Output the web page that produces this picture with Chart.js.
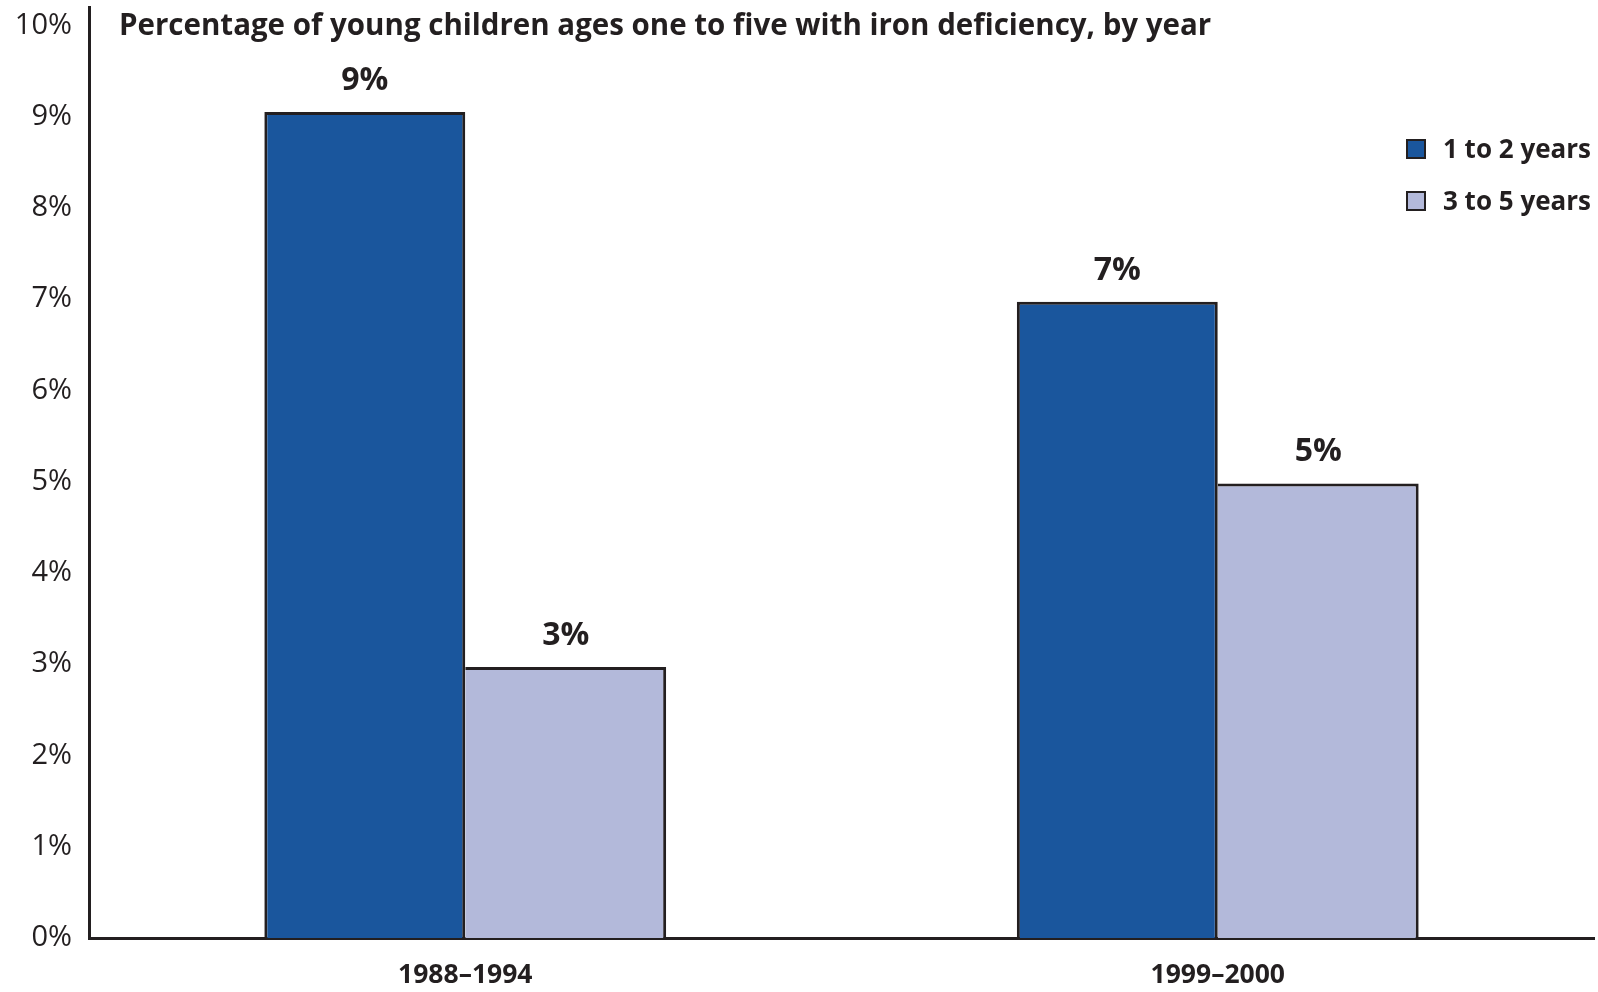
<!DOCTYPE html>
<html>
<head>
<meta charset="utf-8">
<script src="https://cdn.jsdelivr.net/npm/chart.js@4.4.1/dist/chart.umd.min.js"></script>
<style>
  html, body { margin: 0; padding: 0; background: #fff; }
  #wrap { width: 1598px; height: 992px; position: relative; }
</style>
</head>
<body>
<div id="wrap"><canvas id="ironChart"></canvas></div>
<script>
// ---- data ----
const periods = ['1988–1994', '1999–2000'];
const ages1to2 = [9.05, 6.97];
const ages3to5 = [2.97, 4.98];
const seriesNames = ['1 to 2 years', '3 to 5 years'];
const yTicks = [0, 1, 2, 3, 4, 5, 6, 7, 8, 9, 10];
const chartTitle = 'Percentage of young children ages one to five with iron deficiency, by year';

const INK = '#231f20';
const FONT = '"Open Sans", Lato, sans-serif';

// title drawn inside the plot, to the right of the y axis
const titlePlugin = {
    id: 'innerTitle',
    afterDraw(chart) {
        const ctx = chart.ctx;
        ctx.save();
        ctx.font = 'bold 29.5px ' + FONT;
        ctx.fillStyle = INK;
        ctx.textAlign = 'left';
        ctx.textBaseline = 'alphabetic';
        ctx.fillText(chartTitle, chart.chartArea.left + 30, 35);
        ctx.restore();
    }
};

// percent labels above each bar
const valueLabels = {
    id: 'valueLabels',
    afterDatasetsDraw(chart) {
        const ctx = chart.ctx;
        ctx.save();
        ctx.font = 'bold 32px ' + FONT;
        ctx.fillStyle = INK;
        ctx.textAlign = 'center';
        ctx.textBaseline = 'alphabetic';
        chart.data.datasets.forEach((ds, i) => {
            chart.getDatasetMeta(i).data.forEach((bar, j) => {
                ctx.fillText(Math.round(ds.data[j]) + '%', bar.x, bar.y - 22);
            });
        });
        ctx.restore();
    }
};

// legend boxes in the upper right of the plot
const boxLegend = {
    id: 'boxLegend',
    afterDraw(chart) {
        const ctx = chart.ctx;
        const x0 = chart.chartArea.right - 188;
        ctx.save();
        ctx.font = 'bold 26px ' + FONT;
        ctx.textAlign = 'left';
        ctx.textBaseline = 'alphabetic';
        chart.data.datasets.forEach((ds, i) => {
            const top = 139 + i * 52;
            ctx.fillStyle = ds.backgroundColor;
            ctx.fillRect(x0, top, 20, 20);
            ctx.lineWidth = 2;
            ctx.strokeStyle = INK;
            ctx.strokeRect(x0 + 1, top + 1, 18, 18);
            ctx.fillStyle = INK;
            ctx.fillText(ds.label, x0 + 37, top + 19);
        });
        ctx.restore();
    }
};

const ctx = document.getElementById('ironChart').getContext('2d');
new Chart(ctx, {
    type: 'bar',
    data: {
        labels: periods,
        datasets: [
            {
                label: seriesNames[0],
                data: ages1to2,
                backgroundColor: '#1a569d',
                borderColor: INK,
                borderWidth: { top: 3, left: 3, right: 3, bottom: 0 },
                borderSkipped: false
            },
            {
                label: seriesNames[1],
                data: ages3to5,
                backgroundColor: '#b3b9da',
                borderColor: INK,
                borderWidth: { top: 3, left: 0, right: 3, bottom: 0 },
                borderSkipped: false
            }
        ]
    },
    options: {
        responsive: true,
        maintainAspectRatio: false,
        animation: false,
        layout: { padding: { top: 7, right: 4, left: 0, bottom: 0 } },
        datasets: { bar: { barPercentage: 1, categoryPercentage: 0.534 } },
        plugins: {
            legend: { display: false },
            title: { display: false },
            tooltip: { enabled: false }
        },
        scales: {
            x: {
                grid: { display: false, drawTicks: false },
                border: { display: true, color: INK, width: 3 },
                ticks: {
                    color: INK,
                    padding: 22,
                    font: { family: FONT, size: 26.5, weight: 'bold' }
                },
                afterFit(scale) { scale.height = 54; }
            },
            y: {
                min: 0,
                max: 10.2,
                grid: { display: false, drawTicks: false },
                border: { display: true, color: INK, width: 3 },
                afterBuildTicks(scale) {
                    scale.ticks = yTicks.map(v => ({ value: v }));
                },
                ticks: {
                    color: INK,
                    padding: 17,
                    font: { family: FONT, size: 29 },
                    callback: v => v + '%'
                },
                afterFit(scale) {
                    scale.width = 89;
                    scale.paddingTop = 0;
                    scale.paddingBottom = 0;
                }
            }
        }
    },
    plugins: [titlePlugin, valueLabels, boxLegend]
});
</script>
</body>
</html>
